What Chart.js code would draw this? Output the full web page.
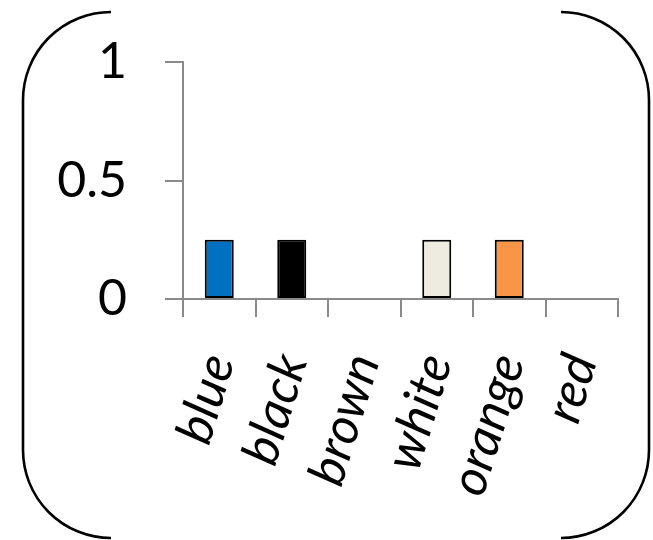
<!DOCTYPE html>
<html>
<head>
<meta charset="utf-8">
<script src="https://cdn.jsdelivr.net/npm/chart.js@4/dist/chart.umd.min.js"></script>
<style>
  html, body { margin: 0; padding: 0; background: #fff; }
  canvas { display: block; }
</style>
</head>
<body>
<canvas id="c" width="653" height="540"></canvas>
<script>
// Colour categories and their shares
const categories = ['blue', 'black', 'brown', 'white', 'orange', 'red'];
const shares = [0.25, 0.25, 0, 0.25, 0.25, 0];
const barColors = ['#0070C0', '#000000', '#943634', '#EEECE1', '#F79646', '#FF0000'];
const yTicks = [0, 0.5, 1];

const AXIS_GREY = '#8a8a8a';
const FONT = 'Lato, "Open Sans", sans-serif';

// Rounded frame around the whole figure (side edges and corners only)
const framePlugin = {
  id: 'roundedFrame',
  afterDraw(chart) {
    const ctx = chart.ctx;
    const L = 23, R = 649, T = 12, B = 538, r = 88;
    ctx.save();
    ctx.strokeStyle = '#000';
    ctx.lineWidth = 2.6;
    ctx.lineCap = 'butt';
    // left side
    ctx.beginPath();
    ctx.arc(L + r, T + r, r, 1.5 * Math.PI, Math.PI, true);
    ctx.lineTo(L, B - r);
    ctx.arc(L + r, B - r, r, Math.PI, 0.5 * Math.PI, true);
    ctx.stroke();
    // right side
    ctx.beginPath();
    ctx.arc(R - r, T + r, r, 1.5 * Math.PI, 0, false);
    ctx.lineTo(R, B - r);
    ctx.arc(R - r, B - r, r, 0, 0.5 * Math.PI, false);
    ctx.stroke();
    ctx.restore();
  }
};

// keep the plot area fixed: no extra room reserved for overhanging labels
function noScalePadding(scale) {
  scale.paddingTop = 0;
  scale.paddingBottom = 0;
  scale.paddingLeft = 0;
  scale.paddingRight = 0;
}

new Chart(document.getElementById('c'), {
  type: 'bar',
  data: {
    labels: categories,
    datasets: [{
      data: shares,
      backgroundColor: barColors,
      borderColor: '#000',
      borderWidth: 2,
      borderSkipped: false,
      barPercentage: 0.4,
      categoryPercentage: 1.0
    }]
  },
  options: {
    responsive: false,
    animation: false,
    devicePixelRatio: 1,
    layout: { padding: { left: 0, right: 35, top: 62, bottom: 0 } },
    plugins: { legend: { display: false }, tooltip: { enabled: false } },
    scales: {
      x: {
        offset: true,
        grid: { offset: true, drawOnChartArea: false, drawTicks: true, tickLength: 18, color: AXIS_GREY, lineWidth: 2 },
        border: { display: true, color: AXIS_GREY, width: 2 },
        ticks: {
          color: '#000',
          font: { family: FONT, size: 51, style: 'italic' },
          minRotation: 73, maxRotation: 73,
          padding: 30,
          autoSkip: false
        },
        afterFit(scale) { scale.height = 241; noScalePadding(scale); }
      },
      y: {
        min: 0, max: 1,
        afterBuildTicks(scale) { scale.ticks = yTicks.map(v => ({ value: v })); },
        grid: { drawOnChartArea: false, drawTicks: true, tickLength: 18, color: AXIS_GREY, lineWidth: 2 },
        border: { display: true, color: AXIS_GREY, width: 2 },
        ticks: {
          color: '#000',
          font: { family: FONT, size: 50 },
          padding: 38,
          callback: v => String(v)
        },
        afterFit(scale) { scale.width = 183; noScalePadding(scale); }
      }
    }
  },
  plugins: [framePlugin]
});
</script>
</body>
</html>
